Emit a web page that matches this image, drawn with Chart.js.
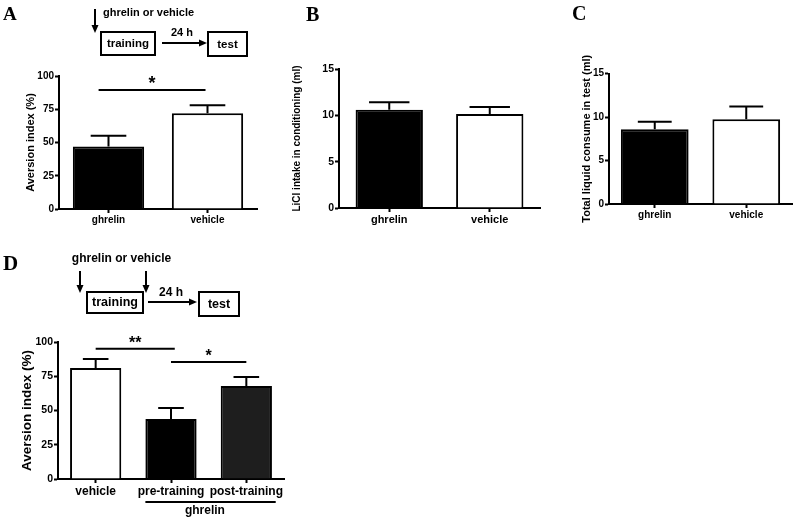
<!DOCTYPE html>
<html><head><meta charset="utf-8">
<script src="https://cdn.jsdelivr.net/npm/chart.js@4"></script>
<style>
html,body{margin:0;padding:0;background:#fff;}
#wrap{position:relative;width:796px;height:522px;background:#fff;overflow:hidden;}
canvas{position:absolute;}
</style></head><body>
<div id="wrap">
<canvas id="cA" width="270" height="240" style="left:0;top:0"></canvas>
<canvas id="cB" width="275" height="240" style="left:270px;top:0"></canvas>
<canvas id="cC" width="251" height="240" style="left:545px;top:0"></canvas>
<canvas id="cD" width="330" height="272" style="left:0;top:250px"></canvas>
</div>
<script>
// ---- data ----
const catsA = ['ghrelin', 'vehicle'];
const meanA = [47, 72];
const semA = [8, 6];
const catsB = ['ghrelin', 'vehicle'];
const meanB = [10.6, 10.15];
const semB = [0.8, 0.75];
const catsC = ['ghrelin', 'vehicle'];
const meanC = [8.6, 9.75];
const semC = [0.85, 1.45];
const catsD = ['vehicle', 'pre-training', 'post-training'];
const meanD = [81, 43.8, 67.9];
const semD = [6.6, 8, 6.6];
const ticksAversion = [0, 25, 50, 75, 100];
const ticksMl = [0, 5, 10, 15];
const sigA = [{from: -0.1, to: 0.98, y: 89.5, label: '*'}];
const sigD = [{from: 0, to: 1.05, y: 95, label: '**'}, {from: 1, to: 2, y: 85.4, label: '*'}];
const groupD = {label: 'ghrelin', from: 0.66, to: 2.39, textAt: 1.45};

const FONT = "'Liberation Sans', Arial, sans-serif";
const SERIF = "'Liberation Serif', 'Times New Roman', serif";

function arrow(ctx, x1, y1, x2, y2, head, w) {
  head = head || 7; w = w || 3.5;
  const a = Math.atan2(y2 - y1, x2 - x1);
  const bx = x2 - head * Math.cos(a), by = y2 - head * Math.sin(a);
  ctx.beginPath(); ctx.moveTo(x1, y1); ctx.lineTo(bx, by); ctx.stroke();
  ctx.beginPath(); ctx.moveTo(x2, y2);
  ctx.lineTo(bx + w * Math.sin(a), by - w * Math.cos(a));
  ctx.lineTo(bx - w * Math.sin(a), by + w * Math.cos(a));
  ctx.closePath(); ctx.fill();
}
function boxText(ctx, x1, y1, x2, y2, text, size) {
  ctx.lineWidth = 2; ctx.strokeRect(x1, y1, x2 - x1, y2 - y1);
  ctx.font = 'bold ' + size + 'px ' + FONT;
  ctx.textAlign = 'center'; ctx.textBaseline = 'middle';
  ctx.fillText(text, (x1 + x2) / 2, (y1 + y2) / 2 + 0.5);
}

function errPlugin(mean, sem, cap) {
  return {id: 'err', afterDatasetsDraw(chart) {
    const ctx = chart.ctx, meta = chart.getDatasetMeta(0), ys = chart.scales.y;
    ctx.save(); ctx.strokeStyle = '#000'; ctx.lineWidth = 2;
    meta.data.forEach((bar, i) => {
      const yt = ys.getPixelForValue(mean[i] + sem[i]);
      const half = bar.width * cap / 2;
      ctx.beginPath();
      ctx.moveTo(bar.x, bar.y); ctx.lineTo(bar.x, yt);
      ctx.moveTo(bar.x - half, yt); ctx.lineTo(bar.x + half, yt);
      ctx.stroke();
    });
    ctx.restore();
  }};
}
function sigPlugin(items, fontSize, gap) {
  return {id: 'sig', afterDatasetsDraw(chart) {
    const ctx = chart.ctx, xs = chart.scales.x, ys = chart.scales.y;
    ctx.save(); ctx.strokeStyle = '#000'; ctx.fillStyle = '#000'; ctx.lineWidth = 2;
    items.forEach(it => {
      const x1 = xs.getPixelForValue(it.from), x2 = xs.getPixelForValue(it.to), y = ys.getPixelForValue(it.y);
      ctx.beginPath(); ctx.moveTo(x1, y); ctx.lineTo(x2, y); ctx.stroke();
      ctx.font = 'bold ' + fontSize + 'px ' + FONT;
      ctx.textAlign = 'center'; ctx.textBaseline = 'alphabetic';
      ctx.fillText(it.label, (x1 + x2) / 2, y - gap + 0.5 * fontSize);
    });
    ctx.restore();
  }};
}
function decoPlugin(fn) {
  return {id: 'deco', afterDraw(chart) {
    const ctx = chart.ctx;
    ctx.save(); ctx.strokeStyle = '#000'; ctx.fillStyle = '#000'; ctx.lineWidth = 2;
    fn(ctx, chart);
    ctx.restore();
  }};
}
function letter(ctx, t, x, y, size) {
  ctx.font = 'bold ' + size + 'px ' + SERIF;
  ctx.textAlign = 'left'; ctx.textBaseline = 'alphabetic';
  ctx.fillText(t, x, y);
}

function makeChart(id, o) {
  return new Chart(document.getElementById(id), {
    type: 'bar',
    data: {labels: o.cats, datasets: [{
      data: o.mean, backgroundColor: o.colors, borderColor: '#000', borderWidth: 2,
      borderSkipped: 'start', barPercentage: o.barPct, categoryPercentage: 1
    }]},
    options: {
      responsive: false, animation: false, devicePixelRatio: 1,
      layout: {padding: {left: 0, top: o.area.top, right: o.W - o.area.right, bottom: o.H - o.area.bottom - o.xH}},
      plugins: {legend: {display: false}, tooltip: {enabled: false}},
      scales: {
        x: {
          grid: {display: true, drawOnChartArea: false, offset: false, tickLength: 4, tickWidth: 2, color: '#000'},
          border: {display: true, color: '#000', width: 2},
          ticks: {color: '#000', font: {family: FONT, weight: 'bold', size: o.xFont}, padding: 1, maxRotation: 0, autoSkip: false},
          afterFit: s => { s.height = o.xH; }
        },
        y: {
          min: 0, max: o.max,
          grid: {display: true, drawOnChartArea: false, tickLength: 4, tickWidth: 2, color: '#000'},
          border: {display: true, color: '#000', width: 2},
          ticks: {color: '#000', font: {family: FONT, weight: 'bold', size: o.yFont}, padding: 1},
          afterBuildTicks: s => { s.ticks = o.ticks.map(v => ({value: v})); },
          title: {display: true, text: o.title, color: '#000', font: {family: FONT, weight: 'bold', size: o.tFont}, padding: {top: o.tPad, bottom: 0}},
          afterFit: s => { s.width = o.area.left; }
        }
      }
    },
    plugins: o.plugins
  });
}

makeChart('cA', {
  cats: catsA, mean: meanA, colors: ['#000', '#fff'], barPct: 0.72,
  W: 270, H: 240, area: {left: 59, top: 76, right: 257, bottom: 209}, xH: 26,
  max: 100, ticks: ticksAversion, title: 'Aversion index (%)',
  xFont: 10, yFont: 10, tFont: 11, tPad: 24.4,
  plugins: [errPlugin(meanA, semA, 0.5), sigPlugin(sigA, 18, 10), decoPlugin(ctx => {
    letter(ctx, 'A', 3, 20, 19);
    arrow(ctx, 95, 9, 95, 33, 8, 3.5);
    ctx.font = 'bold 11px ' + FONT; ctx.textAlign = 'left'; ctx.textBaseline = 'middle';
    ctx.fillText('ghrelin or vehicle', 103, 13);
    boxText(ctx, 101, 32, 155, 55, 'training', 11.5);
    arrow(ctx, 162, 43, 207, 43, 8, 3.5);
    ctx.font = 'bold 11px ' + FONT; ctx.textAlign = 'center'; ctx.textBaseline = 'middle';
    ctx.fillText('24 h', 182, 33);
    boxText(ctx, 208, 32, 247, 56, 'test', 11.5);
  })]
});

makeChart('cB', {
  cats: catsB, mean: meanB, colors: ['#000', '#fff'], barPct: 0.67,
  W: 275, H: 240, area: {left: 69, top: 69, right: 270, bottom: 208}, xH: 26,
  max: 15, ticks: ticksMl, title: 'LiCl intake in conditioning (ml)',
  xFont: 11, yFont: 10.5, tFont: 10, tPad: 21,
  plugins: [errPlugin(meanB, semB, 0.6), decoPlugin(ctx => { letter(ctx, 'B', 36, 21, 20); })]
});

makeChart('cC', {
  cats: catsC, mean: meanC, colors: ['#000', '#fff'], barPct: 0.74,
  W: 251, H: 240, area: {left: 64, top: 73.5, right: 247, bottom: 204}, xH: 26,
  max: 15, ticks: ticksMl, title: 'Total liquid consume in test (ml)',
  xFont: 10, yFont: 10, tFont: 11, tPad: 35.4,
  plugins: [errPlugin(meanC, semC, 0.5), decoPlugin(ctx => { letter(ctx, 'C', 27, 20, 20); })]
});

makeChart('cD', {
  cats: catsD, mean: meanD, colors: ['#fff', '#000', '#1e1e1e'], barPct: 0.68,
  W: 330, H: 272, area: {left: 58, top: 92, right: 284, bottom: 229}, xH: 30,
  max: 100, ticks: ticksAversion, title: 'Aversion index (%)',
  xFont: 12, yFont: 10.5, tFont: 13.5, tPad: 18.9,
  plugins: [errPlugin(meanD, semD, 0.5), sigPlugin(sigD, 16, 9), decoPlugin((ctx, chart) => {
    letter(ctx, 'D', 3, 20, 21);
    ctx.font = 'bold 12px ' + FONT; ctx.textAlign = 'center'; ctx.textBaseline = 'middle';
    ctx.fillText('ghrelin or vehicle', 121.5, 9);
    arrow(ctx, 80, 21, 80, 43, 8, 3.5);
    arrow(ctx, 146, 21, 146, 43, 8, 3.5);
    boxText(ctx, 87, 42, 143, 63, 'training', 12.5);
    arrow(ctx, 148, 52, 197, 52, 8, 3.5);
    ctx.font = 'bold 12px ' + FONT; ctx.textAlign = 'center'; ctx.textBaseline = 'middle';
    ctx.fillText('24 h', 171, 43);
    boxText(ctx, 199, 42, 239, 66, 'test', 12.5);
    // group bracket under x labels
    const xs = chart.scales.x, b = chart.chartArea.bottom;
    ctx.lineWidth = 2;
    ctx.beginPath(); ctx.moveTo(xs.getPixelForValue(groupD.from), b + 23); ctx.lineTo(xs.getPixelForValue(groupD.to), b + 23); ctx.stroke();
    ctx.font = 'bold 12px ' + FONT; ctx.textAlign = 'center'; ctx.textBaseline = 'middle';
    ctx.fillText(groupD.label, xs.getPixelForValue(groupD.textAt), b + 32);
  })]
});
</script>
</body></html>
